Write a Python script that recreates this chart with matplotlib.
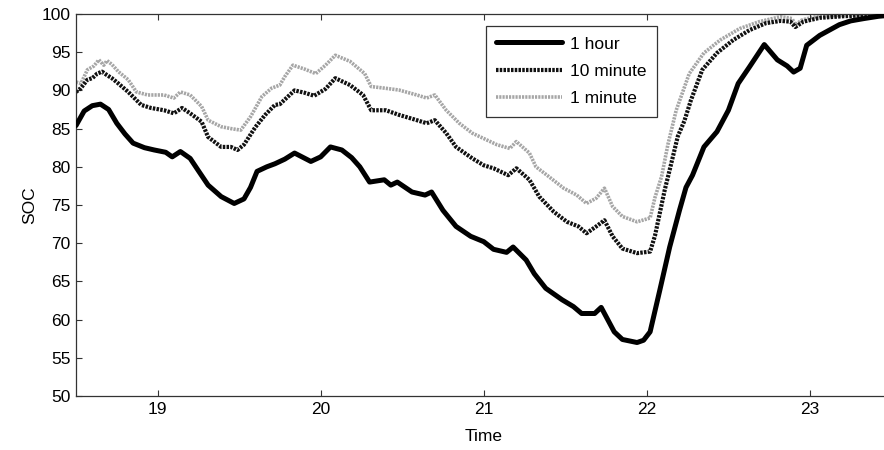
import matplotlib
matplotlib.use("Agg")
import matplotlib.pyplot as plt

plt.rcParams['font.family'] = ['Liberation Sans', 'DejaVu Sans']

# ---- data ----
t_hour = [18.5, 18.55, 18.6, 18.65, 18.7, 18.75, 18.8, 18.85, 18.92, 18.98, 19.05, 19.09, 19.14, 19.2,
          19.25, 19.31, 19.39, 19.47, 19.53, 19.57, 19.61, 19.67, 19.72, 19.78, 19.84, 19.94, 20.0,
          20.06, 20.13, 20.19, 20.24, 20.30, 20.39, 20.43, 20.47, 20.56, 20.64, 20.68, 20.75, 20.83,
          20.92, 21.0, 21.06, 21.14, 21.18, 21.26, 21.31, 21.38, 21.48, 21.55, 21.60, 21.68, 21.72,
          21.80, 21.85, 21.94, 21.98, 22.02, 22.08, 22.14, 22.20, 22.24, 22.28, 22.35, 22.43, 22.50,
          22.56, 22.63, 22.72, 22.80, 22.86, 22.90, 22.94, 22.98, 23.06, 23.12, 23.18, 23.25, 23.33,
          23.42, 23.5]
soc_hour = [85.4, 87.3, 88.0, 88.2, 87.5, 85.7, 84.3, 83.1, 82.5, 82.2, 81.9, 81.3, 82.0, 81.1,
            79.5, 77.6, 76.1, 75.2, 75.8, 77.3, 79.4, 80.0, 80.4, 81.0, 81.8, 80.7, 81.3,
            82.6, 82.2, 81.2, 80.0, 78.0, 78.3, 77.6, 78.0, 76.7, 76.3, 76.7, 74.3, 72.2,
            70.9, 70.2, 69.2, 68.8, 69.5, 67.8, 66.0, 64.1, 62.6, 61.7, 60.8, 60.8, 61.6,
            58.4, 57.4, 57.0, 57.3, 58.4, 63.9, 69.5, 74.3, 77.3, 78.9, 82.6, 84.6, 87.4,
            90.9, 93.1, 96.0, 94.0, 93.2, 92.4, 92.9, 95.9, 97.2, 97.9, 98.6, 99.1, 99.4,
            99.7, 99.85]

t_10min = [18.5, 18.53, 18.57, 18.6, 18.63, 18.66, 18.69, 18.72, 18.76, 18.82, 18.9, 18.96, 19.04,
           19.1, 19.15, 19.2, 19.27, 19.31, 19.39, 19.45, 19.49, 19.53, 19.6, 19.66, 19.72, 19.75,
           19.79, 19.84, 19.9, 19.96, 20.03, 20.09, 20.18, 20.26, 20.31, 20.40, 20.48, 20.59, 20.65,
           20.70, 20.77, 20.83, 20.93, 21.0, 21.06, 21.15, 21.20, 21.28, 21.34, 21.43, 21.51, 21.58,
           21.63, 21.69, 21.74, 21.79, 21.85, 21.94, 22.02, 22.05, 22.08, 22.11, 22.14, 22.19, 22.23,
           22.27, 22.34, 22.43, 22.53, 22.63, 22.73, 22.82, 22.88, 22.91, 22.96, 23.06, 23.2, 23.35,
           23.5]
soc_10min = [89.8, 90.3, 91.4, 91.6, 92.2, 92.45, 92.0, 91.6, 90.9, 89.8, 88.1, 87.7, 87.4,
             87.0, 87.7, 87.0, 85.9, 83.9, 82.6, 82.6, 82.2, 82.9, 85.2, 86.8, 88.1, 88.2,
             89.0, 90.0, 89.7, 89.3, 90.2, 91.6, 90.7, 89.4, 87.4, 87.4, 86.8, 86.1, 85.7,
             86.1, 84.4, 82.6, 81.1, 80.2, 79.8, 78.9, 79.8, 78.3, 76.1, 74.1, 72.8, 72.2,
             71.3, 72.2, 73.0, 70.9, 69.3, 68.7, 68.9, 71.0, 74.0, 77.0, 79.6, 84.0, 86.0,
             88.7, 92.7, 94.9, 96.6, 97.9, 98.8, 99.1, 99.0, 98.3, 99.0, 99.5, 99.7, 99.85,
             99.9]

t_1min = [18.5, 18.53, 18.57, 18.61, 18.64, 18.67, 18.69, 18.72, 18.76, 18.82, 18.87, 18.94, 19.04,
          19.10, 19.14, 19.20, 19.27, 19.31, 19.39, 19.45, 19.51, 19.57, 19.64, 19.70, 19.75, 19.78,
          19.83, 19.90, 19.97, 20.03, 20.09, 20.18, 20.27, 20.31, 20.39, 20.48, 20.59, 20.65, 20.70,
          20.77, 20.85, 20.93, 21.0, 21.08, 21.16, 21.20, 21.28, 21.32, 21.40, 21.49, 21.57, 21.63,
          21.69, 21.74, 21.79, 21.85, 21.94, 22.02, 22.05, 22.09, 22.13, 22.18, 22.26, 22.35, 22.45,
          22.57, 22.69, 22.82, 22.89, 22.91, 22.95, 23.02, 23.15, 23.3, 23.5]
soc_1min = [91.1, 90.9, 92.7, 93.2, 94.0, 93.3, 93.9, 93.4, 92.45, 91.4, 89.8, 89.4, 89.4,
            89.0, 89.8, 89.4, 87.9, 86.1, 85.25, 85.0, 84.8, 86.55, 89.2, 90.3, 90.7, 91.8,
            93.3, 92.8, 92.2, 93.3, 94.6, 93.8, 92.2, 90.5, 90.3, 90.05, 89.4, 89.0, 89.4,
            87.4, 85.7, 84.4, 83.7, 82.9, 82.4, 83.3, 81.8, 80.0, 78.7, 77.2, 76.3, 75.2,
            75.9, 77.2, 74.8, 73.5, 72.8, 73.3, 76.0, 78.7, 83.0, 87.4, 92.2, 94.9, 96.6,
            98.1, 99.0, 99.65, 99.4, 98.6, 99.2, 99.6, 99.8, 99.9, 100.0]

labels = ['1 hour', '10 minute', '1 minute']
x_ticks = [19, 20, 21, 22, 23]
y_ticks = [50, 55, 60, 65, 70, 75, 80, 85, 90, 95, 100]

W, H = 884, 450
fig = plt.figure(figsize=(W / 100, H / 100), dpi=100)
left, right, top, bottom = 76, 891.5, 14, 396
ax = fig.add_axes([left / W, 1 - bottom / H, (right - left) / W, (bottom - top) / H])

ax.plot(t_hour, soc_hour, color='black', lw=3.6, solid_joinstyle='round',
        solid_capstyle='round', label=labels[0], zorder=3)
ax.plot(t_10min, soc_10min, color='#111111', lw=3.0, linestyle=(0, (0.6, 0.3)),
        dash_capstyle='butt', label=labels[1], zorder=2)
ax.plot(t_1min, soc_1min, color='#a6a6a6', lw=2.6, linestyle=(0, (0.6, 0.3)),
        dash_capstyle='butt', label=labels[2], zorder=1)

ax.set_xlim(18.5, 23.5)
ax.set_ylim(50, 100)
ax.set_xticks(x_ticks)
ax.set_yticks(y_ticks)
ax.tick_params(direction='in', length=4.5, width=0.8, top=True, right=True,
               labelsize=12.5, colors='#333333', labelcolor='black', pad=4)
for s in ax.spines.values():
    s.set_color('#333333')
    s.set_linewidth(0.9)
ax.set_xlabel('Time', fontsize=12.5, labelpad=9)
ax.set_ylabel('SOC', fontsize=12.5, labelpad=3)

leg = ax.legend(loc='upper left', bbox_to_anchor=((486 - left) / (right - left), (bottom - 26) / (bottom - top)),
                borderaxespad=0, fontsize=12.5, handlelength=3.8, handletextpad=0.45,
                labelspacing=0.7, borderpad=0.6, fancybox=False, framealpha=1,
                edgecolor='#333333')
leg.get_frame().set_linewidth(0.9)

fig.savefig('out.png', dpi=100)
